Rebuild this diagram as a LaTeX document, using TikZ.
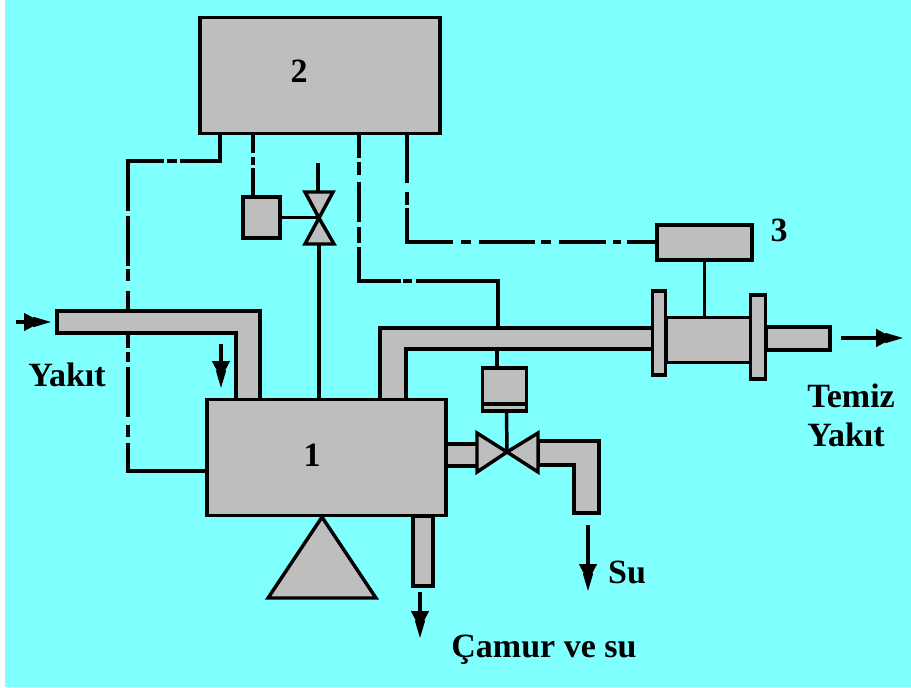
\documentclass[tikz,border=0pt]{standalone}
\usepackage{fontspec}
\setmainfont{Liberation Serif}
\usetikzlibrary{arrows.meta}
\definecolor{skybg}{HTML}{80FFFF}
\definecolor{tankgray}{HTML}{BEBEBE}
\tikzstyle{tank} = [draw=black, fill=tankgray, line width=2.6pt, rectangle, inner sep=0pt]
\tikzstyle{pipe} = [draw=black, fill=tankgray, line width=2.6pt, line join=miter]
\tikzstyle{solidline} = [draw=black, line width=2.6pt]
\tikzstyle{flowarrow} = [draw=black, line width=2.6pt, -{Triangle[length=13pt,width=13pt,sep=-6pt]Triangle[length=14pt,width=7pt]}]
\tikzstyle{lbl} = [font=\fontsize{25.5}{28}\selectfont\bfseries, inner sep=0pt, align=left]

\begin{document}
\begin{tikzpicture}[x=0.75pt, y=-0.75pt]
    \useasboundingbox (0,0) rectangle (911,687);
    \fill[white] (0,0) rectangle (911,687);
    \fill[skybg] (5,0) rectangle (911,687);
%------------ pipes ---------------------
\draw[pipe] (57,311) -- (260,311) -- (260,400) -- (236,400) -- (236,333) -- (57,333) -- cycle;
\draw[pipe] (380,400) -- (380,328) -- (653,328) -- (653,349) -- (406,349) -- (406,400) -- cycle;
\draw[pipe] (766,327) -- (830,327) -- (830,350) -- (766,350) -- cycle;
\draw[pipe] (446,444) -- (478,444) -- (478,466) -- (446,466) -- cycle;
\draw[pipe] (538,441) -- (599,441) -- (599,513) -- (574,513) -- (574,465) -- (538,465) -- cycle;
\draw[pipe] (413,516) -- (433,516) -- (433,586) -- (413,586) -- cycle;
%------------ tanks ---------------------
\node[tank, minimum width=180pt, minimum height=87pt] (box2) at (320,75.5) {};
\node[tank, minimum width=179pt, minimum height=87pt] (box1) at (326.5,457.5) {};
\node[tank, minimum width=71pt, minimum height=26pt] (box3) at (704.5,242.5) {};
\node[tank, minimum width=28pt, minimum height=31pt] (ctrlbox) at (261.5,217.5) {};
\node[tank, minimum width=33pt, minimum height=32pt] (actuator) at (504.5,389.5) {};
\node[tank, minimum width=63pt, minimum height=34pt] (meter) at (708.5,340) {};
\node[tank, minimum width=10pt, minimum height=63pt] (flangeL) at (659,333) {};
\node[tank, minimum width=11pt, minimum height=63pt] (flangeR) at (758,337) {};
\draw[pipe] (322,517) -- (376,598) -- (268,598) -- cycle;
%------------ valves ---------------------
\coordinate (valveA) at (319,218);
\coordinate (valveB) at (507,452);
\draw[pipe] (valveA) -- (305,192) -- (333,192) -- cycle;
\draw[pipe] (valveA) -- (305,244) -- (334,244) -- cycle;
\draw[pipe] (valveB) -- (477,433) -- (477,472) -- cycle;
\draw[pipe] (valveB) -- (538,433) -- (538,472) -- cycle;
\draw[solidline] (actuator.west |- 0,404) -- (actuator.east |- 0,404);
%------------ solid links ---------------------
\coordinate (feedtop) at (318,163);
\draw[solidline] (feedtop) -- (318,192);
\draw[solidline] (ctrlbox.east) -- (319,217.5);
\draw[solidline] (319,244) -- (319,399);
\draw[solidline] (box3.south) -- (box3.south |- meter.north);
\draw[solidline] (497,349) -- (497,368);
\draw[solidline] (506.5,411) -- (valveB);
%------------ control lines ---------------------
\draw[solidline, dash pattern=on 51pt off 2.25pt on 7.5pt off 2.25pt on 64.5pt off 3.75pt on 37.5pt off 2.25pt on 9pt off 7.5pt on 15pt off 20pt] (220,133) -- (220,161) -- (128,161) -- (128,310);
\draw[solidline, dash pattern=on 11pt off 3pt on 7.5pt off 3.75pt on 37.5pt off 6pt on 9pt off 4.5pt on 400pt off 10pt] (128,333) -- (128,471) -- (box1.west |- 0,471);
\draw[solidline, dash pattern=on 15pt off 3pt on 6pt off 2.25pt on 30pt off 10pt] (253,133) -- (253,197);
\draw[solidline, dash pattern=on 18.75pt off 3pt on 9.75pt off 5.25pt on 30pt off 3.75pt on 12pt off 3pt on 57pt off 1.5pt on 6.75pt off 3pt on 400pt off 10pt] (359,133) -- (359,281) -- (498,281) -- (498,327);
\draw[solidline, dash pattern=on 37.5pt off 6.75pt on 9.75pt off 2.25pt on 60pt off 6pt on 7.5pt off 6pt on 42pt off 4.5pt on 7.5pt off 6pt on 35.25pt off 5.25pt on 6pt off 4.5pt on 23.25pt off 10pt] (407,133) -- (407,242) -- (box3.west |- 0,242);
%------------ flow arrows ---------------------
\coordinate (inA) at (16,322);
\coordinate (inB) at (52,322);
\draw[flowarrow] (inA) -- (inB);
\draw[flowarrow] (221,344) -- (221,389);
\draw[flowarrow] (841,338) -- (904,338);
\draw[flowarrow] (588,525) -- (588,592);
\draw[flowarrow] (420,592) -- (420,639);
%------------ labels ---------------------
\node[lbl] (lblone) at (312,455) {1};
\node[lbl] (lbltwo) at (299,71) {2};
\node[lbl] (lblthree) at (779,230) {3};
\node[lbl] (lblyakit) at (67,375) {Yakıt};
\node[lbl] (lbltemiz) at (851,396) {Temiz};
\node[lbl] (lblyakitb) at (846,435) {Yakıt};
\node[lbl] (lblsu) at (627,572) {Su};
\node[lbl] (lblcamur) at (544,650) {Çamur ve su};
\end{tikzpicture}
\end{document}
